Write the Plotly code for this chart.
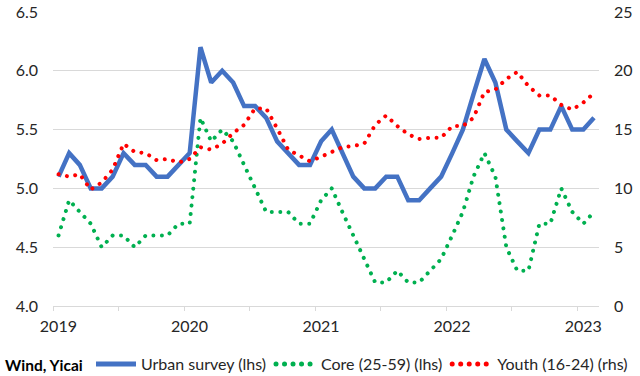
import plotly.graph_objects as go

# Monthly observations, Jan 2019 .. Feb 2023
months = [f"{y}-{m:02d}" for y in range(2019, 2024) for m in range(1, 13)][:50]

urban_survey = [
    5.1, 5.3, 5.2, 5.0, 5.0, 5.1, 5.3, 5.2, 5.2, 5.1, 5.1, 5.2,
    5.3, 6.2, 5.9, 6.0, 5.9, 5.7, 5.7, 5.6, 5.4, 5.3, 5.2, 5.2,
    5.4, 5.5, 5.3, 5.1, 5.0, 5.0, 5.1, 5.1, 4.9, 4.9, 5.0, 5.1,
    5.3, 5.5, 5.8, 6.1, 5.9, 5.5, 5.4, 5.3, 5.5, 5.5, 5.7, 5.5,
    5.5, 5.6,
]
core_25_59 = [
    4.6, 4.9, 4.8, 4.7, 4.5, 4.6, 4.6, 4.5, 4.6, 4.6, 4.6, 4.7,
    4.7, 5.6, 5.4, 5.5, 5.4, 5.2, 5.0, 4.8, 4.8, 4.8, 4.7, 4.7,
    4.9, 5.0, 4.8, 4.6, 4.4, 4.2, 4.2, 4.3, 4.2, 4.2, 4.3, 4.4,
    4.6, 4.8, 5.1, 5.3, 5.1, 4.5, 4.3, 4.3, 4.7, 4.7, 5.0, 4.8,
    4.7, 4.8,
]
youth_16_24 = [
    11.2, 11.0, 11.2, 9.9, 10.5, 11.6, 13.8, 13.1, 13.0, 12.4, 12.5, 12.2,
    12.5, 13.5, 13.3, 13.8, 14.7, 15.4, 16.8, 16.8, 15.1, 13.3, 12.8, 12.3,
    12.7, 13.1, 13.5, 13.6, 13.8, 15.4, 16.2, 15.3, 14.6, 14.2, 14.3, 14.3,
    15.3, 15.3, 16.0, 18.2, 18.4, 19.3, 19.9, 18.7, 17.9, 17.9, 17.1, 16.7,
    17.3, 18.1,
]

year_labels = ["2019", "2020", "2021", "2022", "2023"]
year_label_pos = [f"{y}-01-16" for y in year_labels]
half_year_ticks = [f"{y}-{m}-01" for y in year_labels for m in ("01", "07")][:9]

series_names = ["Urban survey (lhs)", "Core (25-59) (lhs)", "Youth (16-24) (rhs)"]
source_text = "Wind, Yicai"

FONT = "Lato, Arial, sans-serif"
TXT = "#262626"
GRID = "#D9D9D9"

fig = go.Figure()
fig.add_trace(go.Scatter(
    x=months, y=urban_survey, name=series_names[0], mode="lines",
    xperiod="M1", xperiodalignment="middle",
    line=dict(color="#4472C4", width=4.5),
))
fig.add_trace(go.Scatter(
    x=months, y=core_25_59, name=series_names[1], mode="lines",
    xperiod="M1", xperiodalignment="middle",
    line=dict(color="#00B050", width=4, dash="4px,4.5px"),
))
fig.add_trace(go.Scatter(
    x=months, y=youth_16_24, name=series_names[2], mode="lines",
    xperiod="M1", xperiodalignment="middle", yaxis="y2",
    line=dict(color="#FF0000", width=4, dash="4px,4.5px"),
))

fig.update_layout(
    template="none",
    width=640, height=376,
    margin=dict(l=53, r=41, t=12, b=70, autoexpand=False),
    paper_bgcolor="white", plot_bgcolor="white",
    font=dict(family=FONT, size=16, color=TXT),
    showlegend=True,
    hovermode=False,
    legend=dict(
        orientation="h", xref="container", yref="container",
        x=91 / 640, xanchor="left", y=1 - 364 / 376, yanchor="middle",
        font=dict(family=FONT, size=16, color=TXT),
        itemsizing="constant", tracegroupgap=0, itemwidth=40,
        bgcolor="rgba(0,0,0,0)", borderwidth=0,
    ),
    xaxis=dict(
        type="date", range=["2019-01-01", "2023-03-01"],
        tickmode="array", tickvals=year_label_pos, ticktext=year_labels,
        ticks="", showgrid=False, zeroline=False,
        showline=True, linecolor=GRID, linewidth=1,
        ticklabelstandoff=6, automargin=False,
        minor=dict(tickmode="array", tickvals=half_year_ticks, ticks="outside",
                   ticklen=4, tickcolor=GRID, tickwidth=1, showgrid=False),
    ),
    xaxis2=dict(
        type="date", range=["2019-01-01", "2023-03-01"], overlaying="x",
        anchor="y", side="bottom", automargin=False,
        tickmode="array", tickvals=half_year_ticks, ticks="inside",
        ticklen=4, tickcolor=GRID, tickwidth=1, showticklabels=False,
        showgrid=False, zeroline=False, showline=False,
    ),
    yaxis=dict(
        range=[4.0, 6.5], tickmode="linear", tick0=4.0, dtick=0.5,
        tickformat=".1f", showgrid=True, gridcolor=GRID, gridwidth=1,
        zeroline=False, ticks="", ticklabelstandoff=14, automargin=False,
    ),
    yaxis2=dict(
        range=[0, 25], tickmode="linear", tick0=0, dtick=5,
        overlaying="y", side="right", showgrid=False, zeroline=False,
        ticks="", ticklabelstandoff=14, automargin=False,
    ),
    annotations=[dict(
        text=f"<b>{source_text}</b>", xref="paper", yref="paper",
        x=-0.092, xanchor="left", y=-0.2, yanchor="middle", showarrow=False,
        font=dict(family=FONT, size=15.5, color="#000000"),
    )],
)

# Page chrome: no body margin so the 640x376 figure fills the window exactly.
# Excel-style round dots for the dotted series (stroke caps only; geometry stays Plotly's).
post_js = """
document.documentElement.style.margin = '0';
document.body.style.margin = '0';
document.body.style.overflow = 'hidden';
var gd = document.getElementById('{plot_id}');
function roundDots(){
  gd.querySelectorAll('path').forEach(function(p){
    var d = p.style.strokeDasharray;
    if(d && d !== 'none' && d.indexOf('4') === 0){
      p.style.strokeLinecap = 'round';
      p.style.strokeDasharray = '0.01px, 8.5px';
    }
  });
}
roundDots();
if(gd.on){ gd.on('plotly_afterplot', roundDots); }
"""

fig.write_html("out.html", post_script=post_js,
               config={"displayModeBar": False, "staticPlot": True})
